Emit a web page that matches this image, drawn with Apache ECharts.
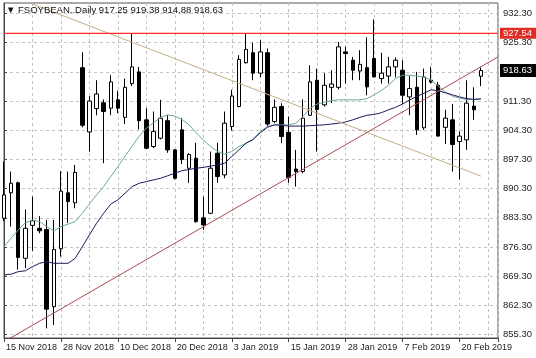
<!DOCTYPE html>
<html>
<head>
<meta charset="utf-8">
<script src="https://cdn.jsdelivr.net/npm/echarts@6/dist/echarts.min.js"></script>
<style>html,body{margin:0;padding:0;background:#fff}#c{width:536px;height:358px}</style>
</head>
<body>
<div id="c"></div>
<script>
const symbolName = 'FSOYBEAN..Daily';
const dates = ['2018-11-15','2018-11-16','2018-11-19','2018-11-20','2018-11-21','2018-11-23','2018-11-26','2018-11-27','2018-11-28','2018-11-29','2018-11-30','2018-12-03','2018-12-04','2018-12-05','2018-12-06','2018-12-07','2018-12-10','2018-12-11','2018-12-12','2018-12-13','2018-12-14','2018-12-17','2018-12-18','2018-12-19','2018-12-20','2018-12-21','2018-12-24','2018-12-26','2018-12-27','2018-12-28','2018-12-31','2019-01-02','2019-01-03','2019-01-04','2019-01-07','2019-01-08','2019-01-09','2019-01-10','2019-01-11','2019-01-14','2019-01-15','2019-01-16','2019-01-17','2019-01-18','2019-01-22','2019-01-23','2019-01-24','2019-01-25','2019-01-28','2019-01-29','2019-01-30','2019-01-31','2019-02-01','2019-02-04','2019-02-05','2019-02-06','2019-02-07','2019-02-08','2019-02-11','2019-02-12','2019-02-13','2019-02-14','2019-02-15','2019-02-19','2019-02-20','2019-02-21','2019-02-22','2019-02-25'];
const opens  = [883.2,889.3,891.7,873.6,881.5,880.8,880.5,862.0,875.9,889.3,886.9,919.3,903.9,909.5,910.9,909.6,911.6,907.4,915.5,918.3,906.8,900.4,902.4,906.6,899.6,904.4,895.2,897.6,883.3,884.4,898.8,893.6,905.2,910.0,920.5,922.9,918.0,922.9,906.4,910.0,903.8,895.0,894.4,907.9,916.3,910.4,914.6,914.6,923.1,921.1,918.5,919.3,921.5,916.7,917.3,919.5,918.7,912.3,914.6,904.9,916.3,915.1,905.0,906.8,901.6,902.0,910.1,917.25];
const highs  = [896.8,894.4,892.0,885.3,888.4,883.7,882.8,882.8,894.5,894.4,896.0,923.0,912.5,916.3,911.7,917.5,913.8,916.7,927.5,919.5,909.6,908.8,911.6,907.9,899.8,907.2,898.8,901.3,888.4,899.2,901.3,908.8,914.0,922.3,927.5,925.3,925.9,923.9,911.7,910.8,907.6,899.6,911.7,919.9,919.1,918.0,918.7,925.5,924.3,921.9,923.5,926.6,930.9,922.9,921.9,921.8,921.1,917.3,918.3,919.1,919.5,915.9,909.2,910.6,904.0,916.3,914.6,919.38];
const lows   = [882.5,881.2,870.9,871.2,875.4,879.6,856.8,857.6,874.0,882.1,885.6,905.0,899.2,907.9,896.4,907.9,908.4,905.8,914.9,904.5,899.8,900.0,902.1,898.9,892.5,896.2,891.7,882.1,880.4,884.2,891.7,892.8,904.2,909.8,920.3,916.3,917.0,905.3,906.0,901.2,891.7,890.8,894.0,907.7,899.2,910.0,910.8,914.1,915.5,916.3,916.3,912.7,917.0,915.5,915.5,917.0,910.6,907.9,903.2,904.4,915.5,902.8,901.0,894.4,892.5,899.6,906.8,914.88];
const closes = [888.8,891.6,873.8,880.8,882.6,880.2,861.4,875.7,889.7,887.2,894.2,905.5,911.3,913.0,908.8,915.9,909.6,914.6,919.5,906.6,900.0,904.0,907.2,899.6,892.8,897.3,898.5,882.4,881.6,895.2,893.2,906.0,912.5,921.3,923.7,918.0,923.1,905.8,909.8,902.8,893.0,894.4,907.2,915.9,909.3,915.1,915.4,924.3,922.7,918.7,920.1,914.7,917.1,918.0,919.5,921.1,912.7,914.3,904.4,917.1,915.9,902.9,907.2,900.9,902.9,910.8,909.2,918.63];
const maFast = [876.4,878.4,880.4,882.1,882.8,882.4,881.2,880.2,881.2,881.8,882.4,884.4,886.6,888.8,890.8,893.2,895.6,898.1,900.5,902.9,904.8,906.1,907.4,908.0,907.7,906.9,905.6,903.7,902.0,900.4,899.2,898.6,899.2,900.4,901.2,902.1,904.0,905.2,905.6,905.6,905.6,906.0,907.6,909.6,910.6,911.0,911.4,911.6,911.6,911.6,911.6,911.9,912.8,913.8,915.1,916.7,917.5,917.5,917.3,917.1,916.3,914.9,913.5,912.5,912.0,911.7,911.7,911.9];
const maSlow = [869.6,869.8,870.4,870.6,871.6,872.4,872.8,872.4,872.4,872.4,873.6,876.4,879.2,882.0,884.4,886.6,887.6,889.2,890.8,891.6,892.0,892.4,892.8,893.4,894.0,894.6,894.9,895.2,895.4,895.7,896.0,896.4,898.0,899.6,901.2,902.1,903.7,905.0,905.6,905.5,905.3,905.3,905.3,905.4,905.5,905.6,905.8,906.0,906.3,906.8,907.4,907.9,908.1,908.5,909.2,909.8,910.6,911.6,912.4,913.2,914.0,913.8,913.3,912.8,912.3,911.9,911.7,911.8];
const trendDown = [[0, 937.2], [67, 893.3]];
const trendUp = [[0, 853.6], [69.4, 921.9]];
const resistance = 927.54;
const yTicks = [855.3,862.3,869.3,876.3,883.3,890.3,897.3,904.3,911.3,918.3,925.3,932.3];
const yLabels = [855.3,862.3,869.3,876.3,883.3,890.3,897.3,904.3,911.3,925.3,932.3];
const xLabelIdx = [0,8,16,24,32,40,48,56,64];

const MON = ['Jan','Feb','Mar','Apr','May','Jun','Jul','Aug','Sep','Oct','Nov','Dec'];
function fmtDate(s){const p=s.split('-');return (+p[2])+' '+MON[+p[1]-1]+' '+p[0];}
const last = dates.length-1;
const lastPrice = closes[last];
const FF = '"Liberation Sans", "DejaVu Sans", sans-serif';
const XMIN = 0, XMAX = 69.4, YMIN = 854.49, YMAX = 934.82;

const candleData = dates.map((d,i)=>[i, opens[i], closes[i], lows[i], highs[i]]);
const chart = echarts.init(document.getElementById('c'), null, {renderer:'canvas'});
chart.setOption({
  animation:false,
  backgroundColor:'#ffffff',
  grid:{left:4, top:3, right:38, bottom:20, show:true, borderColor:'#555', borderWidth:1, backgroundColor:'#fff'},
  graphic:[{type:'text', left:6, top:5, z:10, style:{text:'\u25BC ' + symbolName + ' ' + opens[last].toFixed(2)+' '+highs[last].toFixed(2)+' '+lows[last].toFixed(2)+' '+closes[last].toFixed(2), fill:'#111', font:'9.5px '+FF}}],
  xAxis:[
    {type:'value', min:XMIN, max:XMAX, interval:4, position:'bottom',
     axisLine:{show:true, onZero:false, lineStyle:{color:'#444'}}, axisTick:{show:false}, axisLabel:{show:false},
     splitLine:{show:true, lineStyle:{color:'#c4c4c4', type:[3,3], width:1}}},
    {type:'value', min:XMIN, max:XMAX, interval:8, position:'bottom',
     axisLine:{show:false, onZero:false}, axisTick:{show:true, length:4, lineStyle:{color:'#444'}},
     splitLine:{show:false},
     axisLabel:{show:true, align:'left', margin:5, color:'#222', fontSize:9, fontFamily:FF, padding:[0,0,0,2],
       formatter:function(v){const i=Math.round(v); return (Math.abs(v-i)<1e-6 && xLabelIdx.indexOf(i)>=0) ? fmtDate(dates[i]) : '';}}}
  ],
  yAxis:{type:'value', position:'right', min:YMIN, max:YMAX,
    axisLine:{show:true, lineStyle:{color:'#444'}},
    axisTick:{show:true, length:3, customValues:yTicks, lineStyle:{color:'#444'}},
    axisLabel:{customValues:yLabels, formatter:function(v){return v.toFixed(2);}, color:'#222', fontSize:9.5, fontFamily:FF, margin:5},
    splitLine:{show:true, lineStyle:{color:'#c4c4c4', type:[3,3], width:1}}},
  series:[
    {type:'candlestick', xAxisIndex:0, data:candleData,
     dimensions:['idx','open','close','lowest','highest'],
     encode:{x:'idx', y:['open','close','lowest','highest']},
     barWidth:4,
     itemStyle:{color:'#ffffff', color0:'#000000', borderColor:'#000000', borderColor0:'#000000', borderWidth:1}},
    {type:'line', data:maFast.map((v,i)=>[i,v]), showSymbol:false, lineStyle:{color:'#6ea89a', width:1}, z:3},
    {type:'line', data:maSlow.map((v,i)=>[i,v]), showSymbol:false, lineStyle:{color:'#1c1c5c', width:1}, z:3},
    {type:'line', data:trendDown, showSymbol:false, lineStyle:{color:'#c4ad86', width:1}, z:3},
    {type:'line', data:[[XMIN, resistance],[XMAX, resistance]], showSymbol:false, itemStyle:{color:'#ff2a2a'}, lineStyle:{color:'#ff2a2a', width:1.2}, z:4},
    {type:'line', data:trendUp, showSymbol:false, lineStyle:{color:'#a84a52', width:1}, z:3,
     markLine:{silent:true, symbol:['none','none'], animation:false,
       lineStyle:{color:'#ff2a2a', width:1.2, type:'solid'},
       data:[
         {yAxis:resistance, lineStyle:{color:'#ff2a2a', width:1.2, type:'solid'},
          label:{show:true, position:'end', distance:2, formatter:resistance.toFixed(2), color:'#fff', backgroundColor:'#e02a22', padding:[1,5,0,3], fontSize:9.5, fontFamily:FF}},
         {yAxis:lastPrice, lineStyle:{color:'rgba(255,255,255,0)', width:1, type:'solid'},
          label:{show:true, position:'end', distance:2, formatter:lastPrice.toFixed(2), color:'#fff', backgroundColor:'#000', padding:[2,5,1,3], fontSize:9.5, fontFamily:FF}}
       ]}}
  ]
});
</script>
</body>
</html>
